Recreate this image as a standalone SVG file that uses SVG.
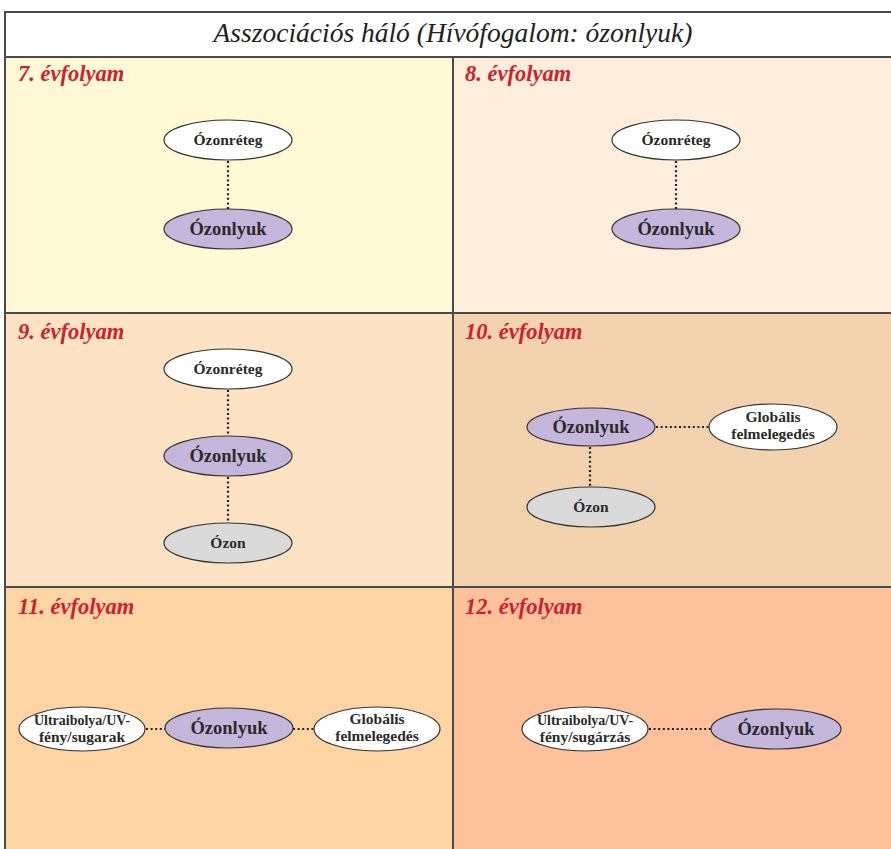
<svg xmlns="http://www.w3.org/2000/svg" width="891" height="849" viewBox="0 0 891 849">
<style>
.title{font-family:"Liberation Serif",serif;font-style:italic;font-size:27.5px;fill:#222}
.hdr{font-family:"Liberation Serif",serif;font-style:italic;font-weight:bold;font-size:22.5px;fill:#D0202E}
.grid{stroke:#4a4a4a;stroke-width:2;fill:none}
.node ellipse{stroke:#333;stroke-width:1.2}
.white{fill:#ffffff}
.core{fill:#C5B6DB}
.grey{fill:#DADADA}
.lbl{font-family:"Liberation Serif",serif;font-weight:bold;fill:#2a2a2a;text-anchor:middle}
.s14{font-size:14px}
.s15{font-size:15.5px}
.s17{font-size:18.5px}
.edge{stroke:#222;stroke-width:2.2;stroke-dasharray:2 2.6;fill:none}
</style>
<rect x="0" y="0" width="891" height="849" fill="#ffffff"/>
<g id="panels">
<rect x="5" y="57" width="448" height="256" fill="#FFF9D6"/>
<rect x="453" y="57" width="438" height="256" fill="#FDEEDC"/>
<rect x="5" y="313" width="448" height="274" fill="#FDE3C3"/>
<rect x="453" y="313" width="438" height="274" fill="#F3D2B0"/>
<rect x="5" y="587" width="448" height="262" fill="#FDD5A5"/>
<rect x="453" y="587" width="438" height="262" fill="#FDC29C"/>
</g>
<g id="grid">
<line class="grid" x1="4" y1="12" x2="891" y2="12"/>
<line class="grid" x1="5" y1="11" x2="5" y2="849"/>
<line class="grid" x1="4" y1="57" x2="891" y2="57"/>
<line class="grid" x1="453" y1="57" x2="453" y2="849"/>
<line class="grid" x1="4" y1="313" x2="891" y2="313"/>
<line class="grid" x1="4" y1="587" x2="891" y2="587"/>
</g>
<text class="title" x="453" y="42" text-anchor="middle">Asszociációs háló (Hívófogalom: ózonlyuk)</text>
<g id="headers">
<text class="hdr" x="18" y="81">7. évfolyam</text>
<text class="hdr" x="465" y="81">8. évfolyam</text>
<text class="hdr" x="18" y="339">9. évfolyam</text>
<text class="hdr" x="465" y="339">10. évfolyam</text>
<text class="hdr" x="18" y="614">11. évfolyam</text>
<text class="hdr" x="465" y="614">12. évfolyam</text>
</g>
<g id="connectors">
<line class="edge" x1="228" y1="161" x2="228" y2="209"/>
<line class="edge" x1="676" y1="161" x2="676" y2="209"/>
<line class="edge" x1="228" y1="390" x2="228" y2="436"/>
<line class="edge" x1="228" y1="477" x2="228" y2="523"/>
<line class="edge" x1="656" y1="427" x2="709" y2="427"/>
<line class="edge" x1="590" y1="447" x2="590" y2="488"/>
<line class="edge" x1="146" y1="729" x2="165" y2="729"/>
<line class="edge" x1="293" y1="729" x2="314" y2="729"/>
<line class="edge" x1="649" y1="729" x2="711" y2="729"/>
</g>
<g id="n7a" class="node"><ellipse class="white" cx="228" cy="140" rx="64" ry="20"/><text class="lbl s15" x="228" y="145">Ózonréteg</text></g>
<g id="n7b" class="node"><ellipse class="core" cx="228" cy="229" rx="64" ry="20"/><text class="lbl s17" x="228" y="235">Ózonlyuk</text></g>
<g id="n8a" class="node"><ellipse class="white" cx="676" cy="140" rx="64" ry="20"/><text class="lbl s15" x="676" y="145">Ózonréteg</text></g>
<g id="n8b" class="node"><ellipse class="core" cx="676" cy="229" rx="64" ry="20"/><text class="lbl s17" x="676" y="235">Ózonlyuk</text></g>
<g id="n9a" class="node"><ellipse class="white" cx="228" cy="369" rx="64" ry="20"/><text class="lbl s15" x="228" y="374">Ózonréteg</text></g>
<g id="n9b" class="node"><ellipse class="core" cx="228" cy="456" rx="64" ry="20"/><text class="lbl s17" x="228" y="462">Ózonlyuk</text></g>
<g id="n9c" class="node"><ellipse class="grey" cx="228" cy="543" rx="64" ry="20"/><text class="lbl s15" x="228" y="548">Ózon</text></g>
<g id="n10a" class="node"><ellipse class="core" cx="591" cy="427" rx="64" ry="19"/><text class="lbl s17" x="591" y="433">Ózonlyuk</text></g>
<g id="n10b" class="node"><ellipse class="white" cx="773" cy="427" rx="64" ry="23"/><text class="lbl s15" x="773" y="422">Globális</text><text class="lbl s15" x="773" y="439">felmelegedés</text></g>
<g id="n10c" class="node"><ellipse class="grey" cx="591" cy="507" rx="64" ry="20"/><text class="lbl s15" x="591" y="512">Ózon</text></g>
<g id="n11a" class="node"><ellipse class="white" cx="82" cy="729" rx="63" ry="22"/><text class="lbl s14" x="82" y="725">Ultraibolya/UV-</text><text class="lbl s15" x="82" y="742">fény/sugarak</text></g>
<g id="n11b" class="node"><ellipse class="core" cx="229" cy="728" rx="64" ry="20"/><text class="lbl s17" x="229" y="734">Ózonlyuk</text></g>
<g id="n11c" class="node"><ellipse class="white" cx="377" cy="729" rx="63" ry="22"/><text class="lbl s15" x="377" y="724">Globális</text><text class="lbl s15" x="377" y="741">felmelegedés</text></g>
<g id="n12a" class="node"><ellipse class="white" cx="585" cy="729" rx="63" ry="22"/><text class="lbl s14" x="585" y="725">Ultraibolya/UV-</text><text class="lbl s15" x="585" y="742">fény/sugárzás</text></g>
<g id="n12b" class="node"><ellipse class="core" cx="776" cy="729" rx="65" ry="20"/><text class="lbl s17" x="776" y="735">Ózonlyuk</text></g>
</svg>
